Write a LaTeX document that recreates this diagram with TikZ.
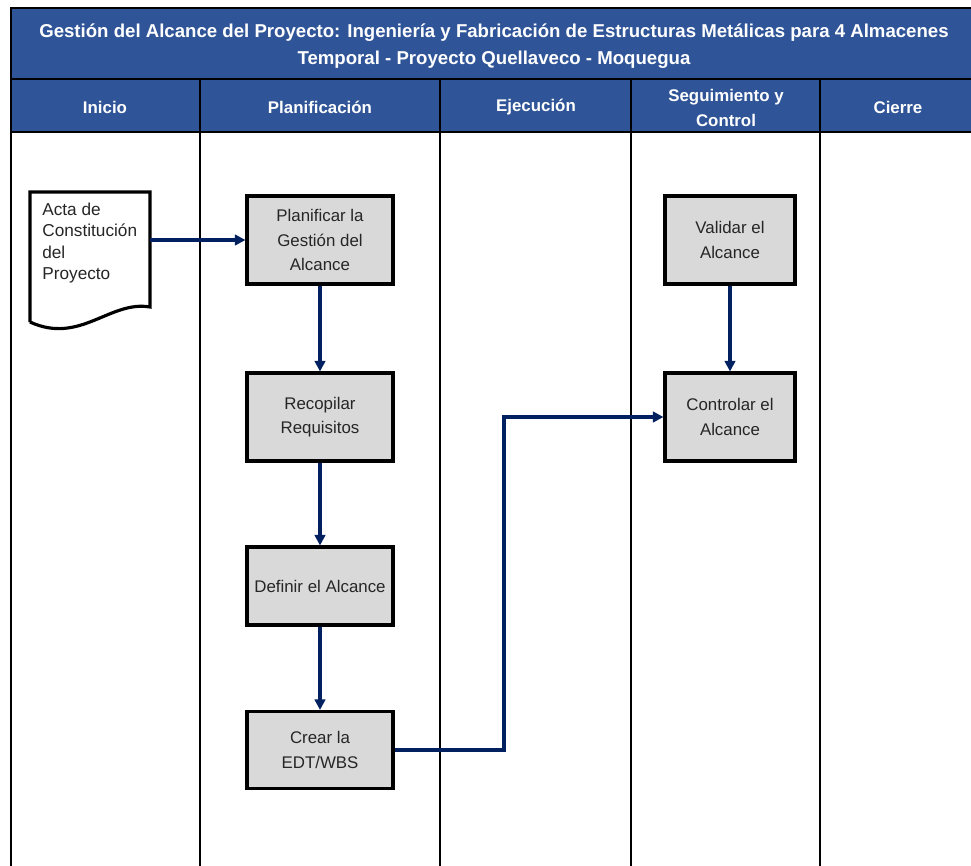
\documentclass[tikz,border=0pt]{standalone}
\usepackage{fontspec}
\setmainfont{Liberation Sans}
\usetikzlibrary{arrows.meta}
\definecolor{titelblau}{RGB}{47,84,151}
\definecolor{pfeilblau}{RGB}{0,32,96}
\definecolor{kastengrau}{RGB}{217,217,217}
\begin{document}
\begin{tikzpicture}[x=0.02cm, y=-0.02cm, proceso style/.style={rectangle, draw, line width=1.8pt, fill=kastengrau, align=center, text=black!85, font=\fontsize{9.6}{14}\selectfont, minimum width=2.92cm, minimum height=1.76cm}, kopf style/.style={text=white, align=center, font=\bfseries\fontsize{9.6}{14}\selectfont}, pfeil/.style={draw=pfeilblau, line width=2.2pt, -{Triangle[length=6pt, width=6pt]}}, linie/.style={line width=1.5pt}]
	\useasboundingbox (0,0) rectangle (971,866);
	\clip (0,0) rectangle (971,866);
	% Kopfzeilen
	\fill[titelblau] (11,8) rectangle (990,132);
	\draw[linie] (11,880) -- (11,8) -- (990,8);
	\draw[linie] (11,79) -- (990,79);
	\draw[linie] (11,132) -- (990,132);
	\foreach \x in {200,440,631,820}
		\draw[linie] (\x,79) -- (\x,880);
	\node[kopf style, font=\bfseries\fontsize{10.6}{15.5}\selectfont] (T) at (494,46) {Gestión del Alcance del Proyecto: Ingeniería y Fabricación de Estructuras Metálicas para 4 Almacenes\\Temporal - Proyecto Quellaveco - Moquegua};
	\node[kopf style] (H1) at (105,107) {Inicio};
	\node[kopf style] (H2) at (320,107) {Planificación};
	\node[kopf style] (H3) at (536,107) {Ejecución};
	\node[kopf style] (H4) at (726,108) {Seguimiento y\\Control};
	\node[kopf style] (H5) at (898,107) {Cierre};
	% Dokument
	\draw[line width=1.8pt, fill=white] (30,322) -- (30,192) -- (150,192) -- (150,307) .. controls (110,300) and (80,345) .. (30,322);
	\node[anchor=north west, align=left, inner sep=0pt, text=black!85, font=\fontsize{9.8}{12}\selectfont] (S1) at (42,203) {Acta de\\Constitución\\del\\Proyecto};
	\coordinate (S1r) at (150,240);
	% Prozesse
	\node[proceso style] (S2) at (320,240) {Planificar la\\Gestión del\\Alcance};
	\node[proceso style] (S3) at (320,417) {Recopilar\\Requisitos};
	\node[proceso style, minimum height=1.56cm] (S4) at (320,586) {Definir el Alcance};
	\node[proceso style, minimum height=1.54cm] (S5) at (320,750) {Crear la\\EDT/WBS};
	\node[proceso style, minimum width=2.6cm] (S6) at (730,240) {Validar el\\Alcance};
	\node[proceso style, minimum width=2.6cm] (S7) at (730,417) {Controlar el\\Alcance};
	\draw[pfeil] (S1r) -- (S2);
	\draw[pfeil] (S2) -- (S3);
	\draw[pfeil] (S3) -- (S4);
	\draw[pfeil] (S4) -- (S5);
	\draw[pfeil] (S6) -- (S7);
	\draw[pfeil] (S5.east) -- ++(109,0) |- (S7.west);
\end{tikzpicture}
\end{document}
